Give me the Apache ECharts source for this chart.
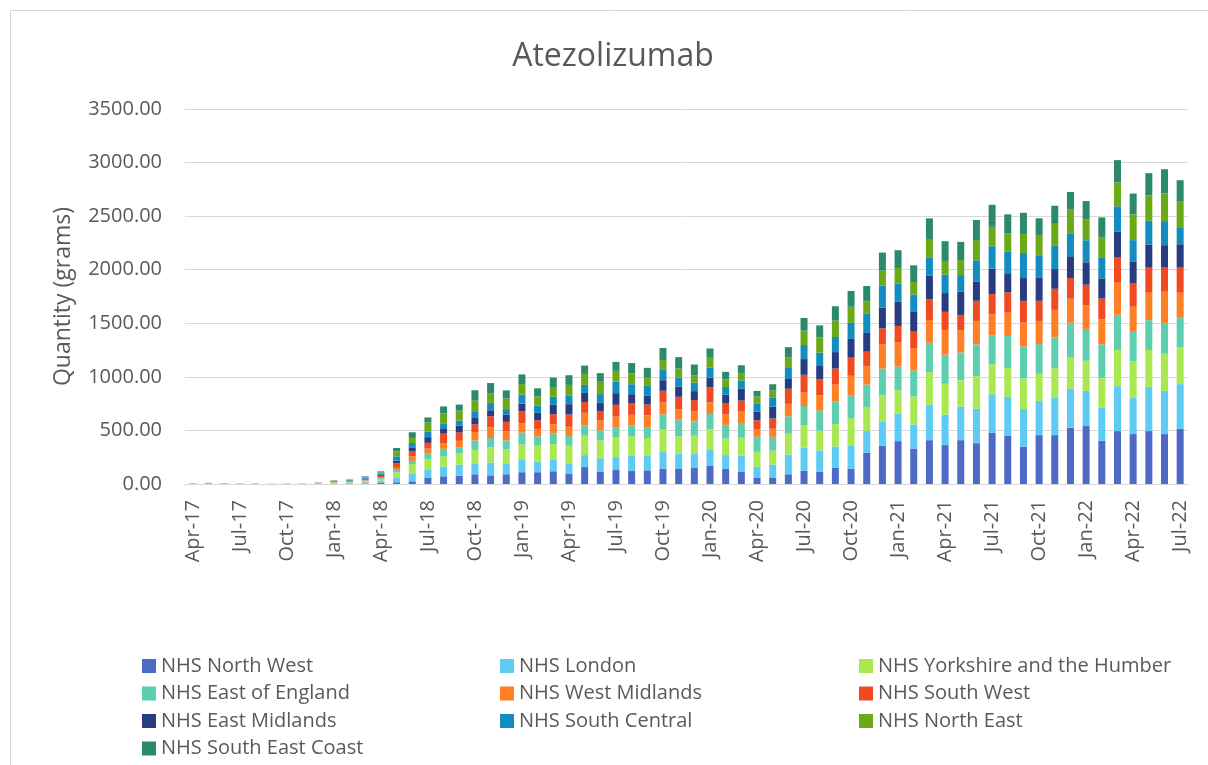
<!DOCTYPE html>
<html>
<head>
<meta charset="utf-8">
<title>Atezolizumab</title>
<script src="https://cdn.jsdelivr.net/npm/echarts@6/dist/echarts.min.js"></script>
<style>
  html, body { margin: 0; padding: 0; background: #fff; }
  #main { width: 1208px; height: 765px; }
</style>
</head>
<body>
<div id="main"></div>
<script>
// 月份 Apr-17 .. Jul-22
const months = [
  "Apr-17", "May-17", "Jun-17", "Jul-17", "Aug-17", "Sep-17", "Oct-17", "Nov-17", "Dec-17",
  "Jan-18", "Feb-18", "Mar-18", "Apr-18", "May-18", "Jun-18", "Jul-18", "Aug-18", "Sep-18", "Oct-18", "Nov-18", "Dec-18",
  "Jan-19", "Feb-19", "Mar-19", "Apr-19", "May-19", "Jun-19", "Jul-19", "Aug-19", "Sep-19", "Oct-19", "Nov-19", "Dec-19",
  "Jan-20", "Feb-20", "Mar-20", "Apr-20", "May-20", "Jun-20", "Jul-20", "Aug-20", "Sep-20", "Oct-20", "Nov-20", "Dec-20",
  "Jan-21", "Feb-21", "Mar-21", "Apr-21", "May-21", "Jun-21", "Jul-21", "Aug-21", "Sep-21", "Oct-21", "Nov-21", "Dec-21",
  "Jan-22", "Feb-22", "Mar-22", "Apr-22", "May-22", "Jun-22", "Jul-22",
];

// 各地区数量 (grams)
const northWest = [3, 4, 3, 2, 2, 1, 1, 1, 2, 2, 2, 5, 12, 16, 25, 59, 72, 78, 91, 81, 91, 110, 110, 119, 93, 158, 112, 130, 121, 127, 143, 140, 149, 168, 140, 116, 56, 56, 91, 122, 113, 150, 141, 291, 356, 400, 331, 409, 363, 409, 381, 478, 450, 347, 456, 456, 525, 541, 403, 494, 466, 494, 466, 513];
const london = [4, 5, 4, 3, 3, 2, 3, 3, 5, 6, 8, 12, 20, 47, 75, 78, 91, 103, 103, 119, 103, 122, 100, 106, 99, 112, 127, 121, 146, 137, 155, 143, 130, 149, 130, 150, 106, 125, 184, 216, 200, 200, 219, 206, 228, 256, 225, 331, 284, 313, 322, 359, 363, 353, 319, 347, 366, 328, 309, 419, 341, 413, 403, 419];
const yorkshire = [2, 3, 2, 1, 1, 0, 2, 2, 3, 5, 6, 10, 15, 44, 85, 97, 94, 103, 125, 141, 128, 138, 147, 147, 165, 180, 168, 183, 177, 165, 208, 162, 171, 193, 155, 166, 138, 131, 194, 209, 184, 209, 253, 222, 244, 219, 263, 303, 288, 247, 303, 281, 269, 284, 253, 278, 288, 281, 275, 338, 338, 344, 347, 344];
const eastOfEngland = [0, 0, 0, 0, 0, 0, 0, 0, 1, 3, 3, 5, 8, 22, 31, 53, 72, 56, 88, 88, 85, 110, 88, 100, 90, 96, 93, 93, 102, 102, 143, 158, 134, 143, 127, 138, 141, 128, 163, 181, 188, 213, 216, 209, 250, 222, 241, 275, 272, 259, 297, 266, 300, 300, 278, 288, 325, 297, 316, 328, 275, 278, 288, 275];
const westMidlands = [0, 0, 0, 0, 0, 0, 0, 0, 2, 3, 4, 6, 10, 22, 41, 44, 53, 63, 78, 100, 85, 88, 69, 85, 87, 118, 93, 106, 99, 109, 112, 93, 93, 109, 96, 106, 72, 75, 116, 125, 141, 156, 181, 169, 225, 228, 209, 213, 231, 209, 219, 200, 216, 222, 216, 256, 225, 222, 234, 300, 234, 256, 291, 234];
const southWest = [0, 0, 0, 0, 0, 0, 0, 0, 2, 4, 5, 8, 12, 41, 47, 53, 88, 78, 72, 103, 88, 113, 81, 94, 115, 102, 87, 106, 106, 102, 109, 118, 106, 143, 102, 103, 81, 97, 141, 166, 150, 150, 169, 138, 150, 150, 153, 191, 169, 141, 188, 188, 191, 203, 188, 197, 194, 191, 194, 234, 216, 234, 225, 234];
const eastMidlands = [0, 0, 0, 0, 0, 0, 0, 0, 0, 3, 4, 5, 8, 25, 38, 53, 50, 63, 59, 56, 69, 69, 69, 88, 96, 84, 78, 109, 87, 81, 99, 93, 84, 87, 84, 113, 81, 109, 91, 147, 125, 153, 175, 175, 194, 225, 184, 225, 175, 216, 181, 238, 178, 213, 213, 184, 203, 209, 188, 241, 203, 216, 209, 219];
const southCentral = [0, 0, 0, 0, 0, 0, 0, 0, 0, 3, 4, 8, 10, 41, 41, 50, 47, 47, 56, 69, 50, 85, 66, 75, 78, 75, 81, 109, 93, 93, 102, 84, 78, 96, 71, 75, 78, 88, 103, 131, 125, 141, 150, 178, 203, 172, 163, 163, 172, 156, 197, 209, 200, 234, 206, 222, 209, 206, 191, 238, 203, 222, 225, 159];
const northEast = [0, 0, 0, 0, 0, 0, 0, 0, 0, 3, 4, 6, 13, 47, 47, 87, 91, 94, 106, 91, 100, 97, 88, 91, 102, 102, 115, 99, 99, 75, 87, 87, 71, 90, 71, 63, 63, 63, 97, 134, 141, 153, 150, 116, 141, 144, 116, 169, 128, 141, 188, 181, 172, 178, 188, 200, 225, 197, 194, 222, 241, 238, 259, 238];
const southEastCoast = [0, 0, 0, 0, 0, 0, 0, 0, 0, 2, 3, 6, 10, 31, 53, 47, 66, 56, 97, 94, 75, 91, 75, 88, 90, 78, 81, 84, 99, 93, 112, 106, 99, 87, 71, 78, 53, 59, 97, 119, 113, 134, 147, 144, 169, 166, 156, 200, 184, 169, 188, 206, 178, 197, 163, 169, 166, 169, 184, 209, 194, 206, 225, 200];

const regionNames = [
  "NHS North West", "NHS London", "NHS Yorkshire and the Humber", "NHS East of England",
  "NHS West Midlands", "NHS South West", "NHS East Midlands", "NHS South Central",
  "NHS North East", "NHS South East Coast",
];
const regionValues = [
  northWest, london, yorkshire, eastOfEngland, westMidlands,
  southWest, eastMidlands, southCentral, northEast, southEastCoast,
];
const regionColors = [
  "#4f69c6", "#5ecbf5", "#a9e851", "#5dcfb0", "#ff7f24",
  "#f04a23", "#283c80", "#138dbf", "#6aa918", "#2a8a6b",
];

const textColor = "#595959";
const fontFamily = "'Open Sans', sans-serif";

const chart = echarts.init(document.getElementById("main"));

// 图例分三列
const legendColumns = [
  { left: 137, data: [regionNames[0], regionNames[3], regionNames[6], regionNames[9]] },
  { left: 495, data: [regionNames[1], regionNames[4], regionNames[7]] },
  { left: 854, data: [regionNames[2], regionNames[5], regionNames[8]] },
];

chart.setOption({
  animation: false,
  backgroundColor: "#fff",
  color: regionColors,
  textStyle: { fontFamily: fontFamily },
  graphic: [
    {
      // 外框
      type: "rect",
      shape: { x: 10.5, y: 10.5, width: 1400, height: 1000 },
      style: { fill: "none", stroke: "#d9d9d9", lineWidth: 1 },
      silent: true,
    },
  ],
  title: {
    text: "Atezolizumab",
    left: 608,
    textAlign: "center",
    top: 36,
    textStyle: { color: textColor, fontSize: 32, fontWeight: "normal", fontFamily: fontFamily },
  },
  legend: legendColumns.map((col) => ({
    orient: "vertical",
    left: col.left,
    top: 651,
    height: 140,
    itemWidth: 14,
    itemHeight: 14,
    itemGap: 7.5,
    icon: "rect",
    data: col.data,
    textStyle: { color: textColor, fontSize: 20, lineHeight: 20, fontFamily: fontFamily },
  })),
  grid: {
    left: 185,
    right: 20,
    top: 109,
    bottom: 281,
    containLabel: false,
  },
  xAxis: {
    type: "category",
    data: months,
    boundaryGap: true,
    axisLine: { lineStyle: { color: "#d9d9d9", width: 1 } },
    axisTick: { interval: 2, length: 7, lineStyle: { color: "#d9d9d9" } },
    axisLabel: {
      interval: 2,
      rotate: 90,
      margin: 16,
      color: textColor,
      fontSize: 20,
      fontFamily: fontFamily,
    },
  },
  yAxis: {
    type: "value",
    min: 0,
    max: 3500,
    interval: 500,
    name: "Quantity (grams)",
    nameLocation: "middle",
    nameGap: 110,
    nameTextStyle: { color: textColor, fontSize: 23, fontFamily: fontFamily },
    axisLine: { show: false },
    axisTick: { show: false },
    splitLine: { lineStyle: { color: "#d9d9d9", width: 1 } },
    axisLabel: {
      margin: 23,
      color: textColor,
      fontSize: 20,
      fontFamily: fontFamily,
      formatter: (v) => v.toFixed(2),
    },
  },
  series: regionNames.map((name, i) => ({
    name: name,
    type: "bar",
    stack: "total",
    barWidth: 7,
    itemStyle: { color: regionColors[i] },
    data: regionValues[i],
  })),
});
</script>
</body>
</html>
